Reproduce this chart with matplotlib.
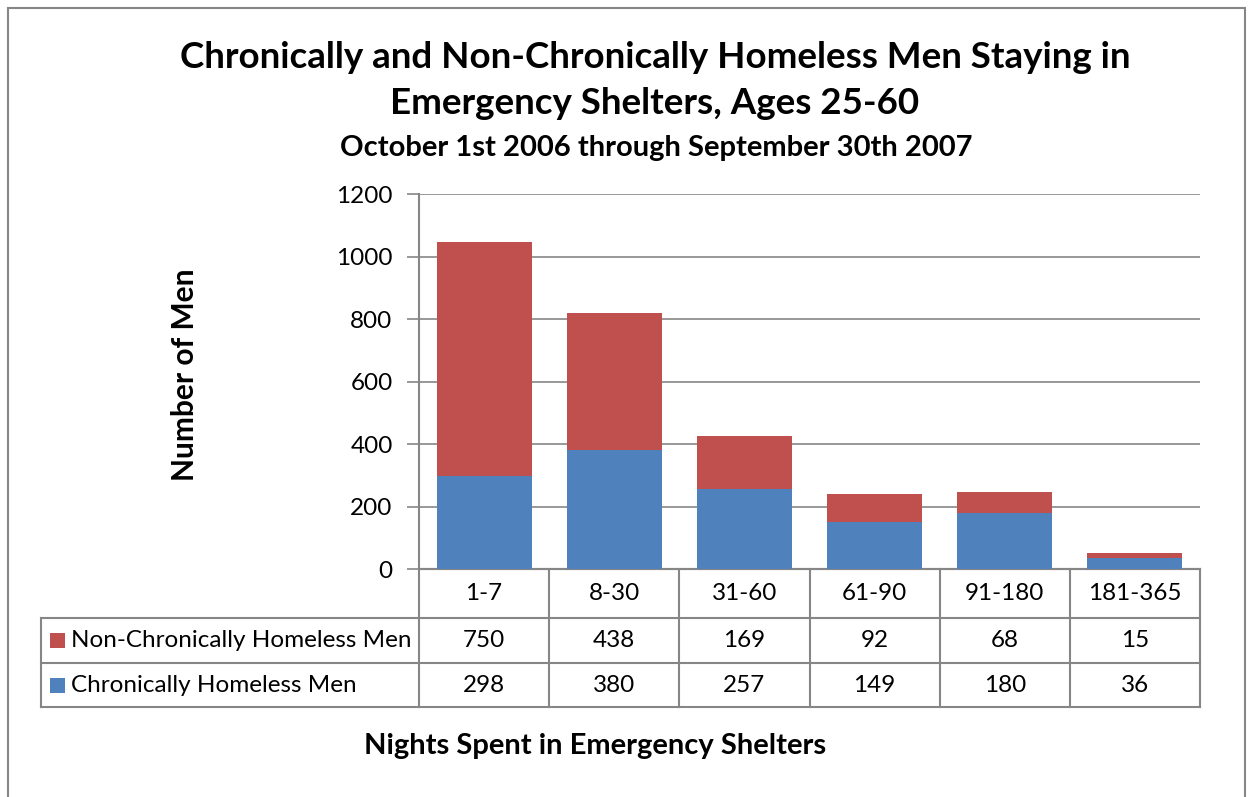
import numpy as np
import matplotlib.pyplot as plt
from matplotlib.patches import Rectangle
from matplotlib.lines import Line2D
import matplotlib.transforms as mtransforms

# data
categories = ['1-7', '8-30', '31-60', '61-90', '91-180', '181-365']
series_names = ['Non-Chronically Homeless Men', 'Chronically Homeless Men']
non_chronic = [750, 438, 169, 92, 68, 15]
chronic = [298, 380, 257, 149, 180, 36]
yticks = [0, 200, 400, 600, 800, 1000, 1200]

RED = '#C0504D'
BLUE = '#4F81BD'
GRID = '#868686'

plt.rcParams['font.family'] = ['Lato', 'DejaVu Sans']

W, H = 1249, 797
fig = plt.figure(figsize=(W / 100, H / 100), dpi=100)


def fx(px):
    return px / W


def fy(py):
    return 1 - py / H


# outer chart border
fig.patches.append(Rectangle((fx(8), fy(830)), fx(1245) - fx(8), fy(8) - fy(830),
                             transform=fig.transFigure, fill=False,
                             edgecolor=GRID, linewidth=1.5))

# plot area
left, right, top, bottom = 419, 1200, 194, 569
ax = fig.add_axes([fx(left), fy(bottom), fx(right) - fx(left), (bottom - top) / H])

x = np.arange(len(categories))
ax.bar(x, chronic, width=0.73, color=BLUE, zorder=3)
ax.bar(x, non_chronic, width=0.73, bottom=chronic, color=RED, zorder=3)

ax.set_xlim(-0.5, len(categories) - 0.5)
ax.set_ylim(0, 1200)
ax.set_yticks(yticks)
ax.set_xticks([])
ax.tick_params(axis='y', labelsize=17.5, length=9, width=1.2, color=GRID, pad=10)
ax.yaxis.grid(True, color=GRID, linewidth=1.2, zorder=0)
for s in ['top', 'right']:
    ax.spines[s].set_visible(False)
ax.spines['left'].set_color(GRID)
ax.spines['left'].set_linewidth(1.5)
ax.spines['bottom'].set_color(GRID)
ax.spines['bottom'].set_linewidth(1.5)

# data table under the axis: x in data coords, y in axes fraction
trans = mtransforms.blended_transform_factory(ax.transData, ax.transAxes)
px_h = bottom - top
row_y = [(bottom - p) / px_h for p in (569, 618, 663, 707)]
x_left = -0.5 - (left - 41) / ((right - left) / len(categories))
x_right = len(categories) - 0.5
lw = 1.5

# horizontal lines
for i, yy in enumerate(row_y):
    x0 = -0.5 if i == 0 else x_left
    ax.add_line(Line2D([x0, x_right], [yy, yy], transform=trans, color=GRID,
                       linewidth=lw, clip_on=False))
# vertical lines
for k in range(len(categories) + 1):
    ax.add_line(Line2D([k - 0.5, k - 0.5], [row_y[0], row_y[-1]], transform=trans,
                       color=GRID, linewidth=lw, clip_on=False))
ax.add_line(Line2D([x_left, x_left], [row_y[1], row_y[-1]], transform=trans,
                   color=GRID, linewidth=lw, clip_on=False))

# header row: category labels
for i, c in enumerate(categories):
    ax.text(i, (row_y[0] + row_y[1]) / 2, c, transform=trans, ha='center', va='center',
            fontsize=17.5, clip_on=False)

# series rows
rows = [(series_names[0], RED, non_chronic), (series_names[1], BLUE, chronic)]
for r, (name, col, vals) in enumerate(rows):
    yc = (row_y[r + 1] + row_y[r + 2]) / 2
    for i, v in enumerate(vals):
        ax.text(i, yc, str(v), transform=trans, ha='center', va='center',
                fontsize=17.5, clip_on=False)
    # legend key and series name in figure coords
    yc_fig = fy(bottom) + yc * px_h / H
    fig.patches.append(Rectangle((fx(50), yc_fig - 7.5 / H), 15 / W, 15 / H,
                                 transform=fig.transFigure,
                                 facecolor=col, edgecolor='none'))
    fig.text(fx(71), yc_fig, name, ha='left', va='center', fontsize=17.5)

# titles
fig.text(fx(655), fy(57), 'Chronically and Non-Chronically Homeless Men Staying in',
         ha='center', va='center', fontsize=26.5, fontweight='bold')
fig.text(fx(655), fy(103), 'Emergency Shelters, Ages 25-60',
         ha='center', va='center', fontsize=26.5, fontweight='bold')
fig.text(fx(656), fy(148), 'October 1st 2006 through September 30th 2007',
         ha='center', va='center', fontsize=21, fontweight='bold')
fig.text(fx(185), fy(375), 'Number of Men', rotation=90,
         ha='center', va='center', fontsize=21.5, fontweight='bold')
fig.text(fx(595), fy(746), 'Nights Spent in Emergency Shelters',
         ha='center', va='center', fontsize=21, fontweight='bold')

fig.savefig('out.png', dpi=100)
